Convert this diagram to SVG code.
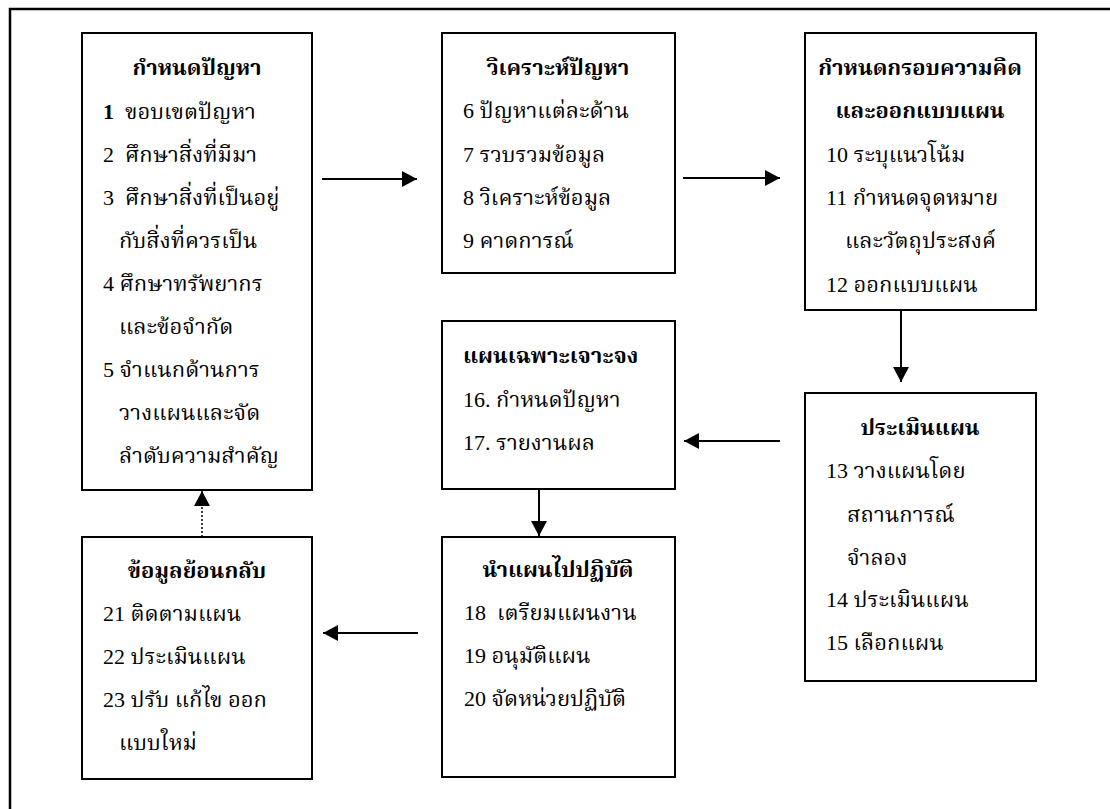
<svg xmlns="http://www.w3.org/2000/svg" width="1110" height="809" viewBox="0 0 1110 809">
<defs>
<marker id="ah" markerUnits="userSpaceOnUse" markerWidth="16" markerHeight="16" refX="15" refY="8" orient="auto">
<path d="M0,0 L15,8 L0,16 z" fill="#000"/>
</marker>
<style>
.box{fill:#fff;stroke:#000;stroke-width:2}
.t{font-family:"Liberation Serif","Noto Serif Thai","Noto Sans Thai","Norasi","Garuda","Loma",serif;font-size:22px;fill:#000}
.b{font-weight:bold}
.c{text-anchor:middle}
.conn{stroke:#000;stroke-width:2;fill:none;marker-end:url(#ah)}
.dot{stroke:#000;stroke-width:1.5;fill:none;stroke-dasharray:2 2;marker-end:url(#ah)}
</style>
</defs>
<rect x="10" y="9" width="1120" height="820" fill="#fff" stroke="#000" stroke-width="2.5"/>

<g id="n1">
<rect class="box" x="82" y="33" width="230" height="457"/>
<text class="t b c" x="197" y="75">กำหนดปัญหา</text>
<text class="t" x="103" y="119"><tspan class="b">1</tspan>&#160; ขอบเขตปัญหา</text>
<text class="t" x="103" y="162">2&#160; ศึกษาสิ่งที่มีมา</text>
<text class="t" x="103" y="205">3&#160; ศึกษาสิ่งที่เป็นอยู่</text>
<text class="t" x="119" y="248">กับสิ่งที่ควรเป็น</text>
<text class="t" x="103" y="291">4 ศึกษาทรัพยากร</text>
<text class="t" x="119" y="334">และข้อจำกัด</text>
<text class="t" x="103" y="377">5 จำแนกด้านการ</text>
<text class="t" x="119" y="420">วางแผนและจัด</text>
<text class="t" x="119" y="463">ลำดับความสำคัญ</text>
</g>

<g id="n2">
<rect class="box" x="442" y="33" width="233" height="240"/>
<text class="t b c" x="558" y="75">วิเคราะห์ปัญหา</text>
<text class="t" x="463" y="118">6 ปัญหาแต่ละด้าน</text>
<text class="t" x="463" y="162">7 รวบรวมข้อมูล</text>
<text class="t" x="463" y="205">8 วิเคราะห์ข้อมูล</text>
<text class="t" x="463" y="248">9 คาดการณ์</text>
</g>

<g id="n3">
<rect class="box" x="805" y="33" width="231" height="277"/>
<text class="t b c" x="920" y="75">กำหนดกรอบความคิด</text>
<text class="t b c" x="920" y="118">และออกแบบแผน</text>
<text class="t" x="826" y="162">10 ระบุแนวโน้ม</text>
<text class="t" x="826" y="205">11 กำหนดจุดหมาย</text>
<text class="t" x="845" y="248">และวัตถุประสงค์</text>
<text class="t" x="826" y="292">12 ออกแบบแผน</text>
</g>

<g id="n4">
<rect class="box" x="805" y="393" width="231" height="288"/>
<text class="t b c" x="920" y="435">ประเมินแผน</text>
<text class="t" x="826" y="478">13 วางแผนโดย</text>
<text class="t" x="847" y="522">สถานการณ์</text>
<text class="t" x="847" y="565">จำลอง</text>
<text class="t" x="826" y="607">14 ประเมินแผน</text>
<text class="t" x="826" y="650">15 เลือกแผน</text>
</g>

<g id="n5">
<rect class="box" x="442" y="321" width="233" height="168"/>
<text class="t b" x="463" y="363">แผนเฉพาะเจาะจง</text>
<text class="t" x="463" y="407">16. กำหนดปัญหา</text>
<text class="t" x="463" y="450">17. รายงานผล</text>
</g>

<g id="n6">
<rect class="box" x="442" y="537" width="233" height="240"/>
<text class="t b c" x="558" y="577">นำแผนไปปฏิบัติ</text>
<text class="t" x="464" y="620">18&#160; เตรียมแผนงาน</text>
<text class="t" x="464" y="663">19 อนุมัติแผน</text>
<text class="t" x="464" y="706">20 จัดหน่วยปฏิบัติ</text>
</g>

<g id="n7">
<rect class="box" x="82" y="537" width="230" height="242"/>
<text class="t b c" x="197" y="578">ข้อมูลย้อนกลับ</text>
<text class="t" x="103" y="621">21 ติดตามแผน</text>
<text class="t" x="103" y="664">22 ประเมินแผน</text>
<text class="t" x="103" y="707">23 ปรับ แก้ไข ออก</text>
<text class="t" x="119" y="750">แบบใหม่</text>
</g>

<g id="connectors">
<line class="conn" x1="322" y1="179" x2="417" y2="179"/>
<line class="conn" x1="683" y1="178" x2="780" y2="178"/>
<line class="conn" x1="901" y1="310" x2="901" y2="382"/>
<line class="conn" x1="780" y1="441" x2="684" y2="441"/>
<line class="conn" x1="539" y1="489" x2="539" y2="536"/>
<line class="conn" x1="418" y1="633" x2="323" y2="633"/>
<line class="dot" x1="202" y1="537" x2="202" y2="491"/>
</g>
</svg>
